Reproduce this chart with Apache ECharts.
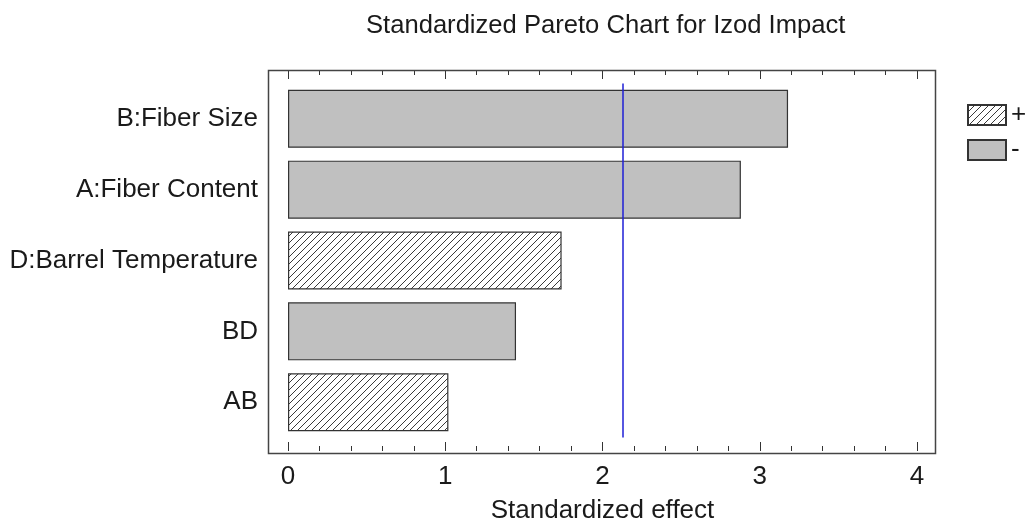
<!DOCTYPE html>
<html><head><meta charset="utf-8">
<script src="https://cdn.jsdelivr.net/npm/echarts@6/dist/echarts.min.js"></script>
<style>html,body{margin:0;padding:0;background:#fff}#c{width:1028px;height:529px}</style>
</head><body><div id="c"></div>
<script>
const categories = ['B:Fiber Size', 'A:Fiber Content', 'D:Barrel Temperature', 'BD', 'AB'];
const plusValues = ['-', '-', 1.74, '-', 1.02];
const minusValues = [3.18, 2.88, '-', 1.45, '-'];
const criticalValue = 2.13;
const xTicks = [0, 1, 2, 3, 4];

const FONT = '"Liberation Sans", Arial, sans-serif';
const S = 7;
const cv = document.createElement('canvas');
cv.width = S; cv.height = S;
const ctx = cv.getContext('2d');
ctx.fillStyle = '#fff'; ctx.fillRect(0, 0, S, S);
ctx.strokeStyle = '#3a3a3a'; ctx.lineWidth = 1;
ctx.beginPath();
ctx.moveTo(0, S); ctx.lineTo(S, 0);
ctx.moveTo(-2, 2); ctx.lineTo(2, -2);
ctx.moveTo(S - 2, S + 2); ctx.lineTo(S + 2, S - 2);
ctx.stroke();
const hatch = { image: cv, repeat: 'repeat' };

const chart = echarts.init(document.getElementById('c'));
const xAxisCommon = {
  type: 'value', min: xTicks[0], max: xTicks[xTicks.length - 1], interval: 1,
  axisLine: { show: false },
  splitLine: { show: false },
  axisTick: { show: true, inside: true, length: 9, lineStyle: { color: '#333' } },
  minorTick: { show: true, splitNumber: 5, length: 5, lineStyle: { color: '#333' } },
  offset: 13.4
};
chart.setOption({
  animation: false,
  backgroundColor: '#fff',
  title: {
    text: 'Standardized Pareto Chart for Izod Impact',
    left: 361, top: 8,
    textStyle: { fontFamily: FONT, fontSize: 25.6, fontWeight: 'normal', color: '#1a1a1a' }
  },
  legend: {
    orient: 'vertical', left: 962, top: 97, itemWidth: 38, itemHeight: 20, itemGap: 9,
    icon: 'rect',
    textStyle: { fontFamily: FONT, fontSize: 26, color: '#1a1a1a' },
    data: ['+', '-']
  },
  grid: { left: 288, right: 111, top: 83.4, bottom: 89.4 },
  xAxis: [
    Object.assign({}, xAxisCommon, {
      position: 'bottom',
      axisLabel: { fontFamily: FONT, fontSize: 26, color: '#1a1a1a', margin: 13 },
      name: 'Standardized effect', nameLocation: 'middle', nameGap: 47,
      nameTextStyle: { fontFamily: FONT, fontSize: 26, color: '#1a1a1a' }
    }),
    Object.assign({}, xAxisCommon, {
      position: 'top', axisLabel: { show: false }
    })
  ],
  yAxis: {
    type: 'category', data: categories, inverse: true,
    axisLine: { show: false }, axisTick: { show: false },
    axisLabel: { fontFamily: FONT, fontSize: 26, color: '#1a1a1a', margin: 30 }
  },
  graphic: [{
    type: 'rect', shape: { x: 268.5, y: 70.5, width: 667, height: 383 },
    style: { fill: null, stroke: '#444', lineWidth: 1.5 }, z: 10, silent: true
  }],
  series: [
    {
      name: '+', type: 'bar', data: plusValues, barWidth: 58, barGap: '-100%',
      itemStyle: { color: hatch, borderColor: '#333', borderWidth: 1.2 }
    },
    {
      name: '-', type: 'bar', data: minusValues, barWidth: 58, barGap: '-100%',
      itemStyle: { color: '#c0c0c0', borderColor: '#333', borderWidth: 1.2 },
      markLine: {
        silent: true, symbol: 'none', label: { show: false },
        lineStyle: { color: '#1f1fd6', width: 1.5, type: 'solid', opacity: 1 },
        data: [{ xAxis: criticalValue }]
      }
    }
  ]
});
</script></body></html>
